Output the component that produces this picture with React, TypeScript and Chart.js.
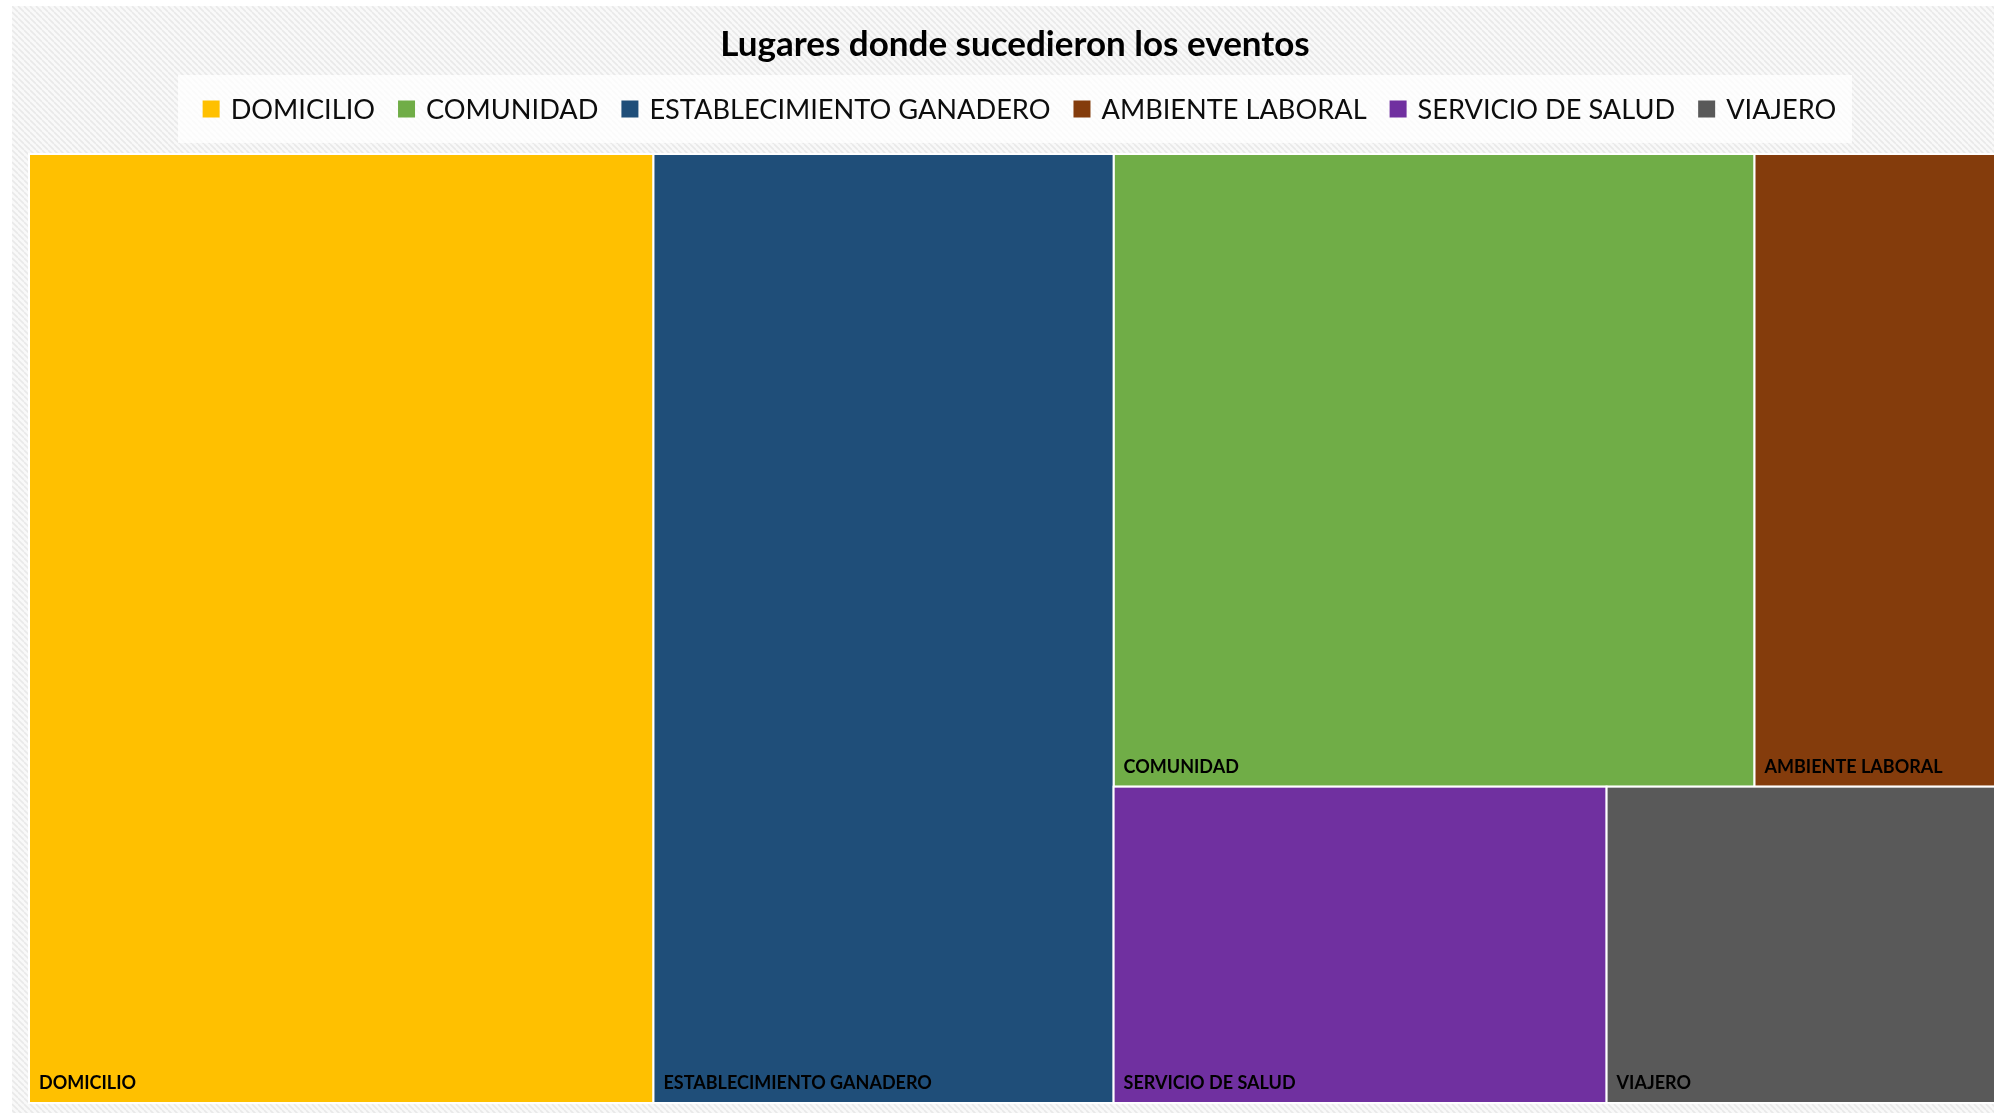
import React, { useEffect, useRef } from 'react';
import { Chart, registerables } from 'chart.js';

Chart.register(...registerables);

const TITLE = 'Lugares donde sucedieron los eventos';
const categories = ['DOMICILIO', 'COMUNIDAD', 'ESTABLECIMIENTO GANADERO', 'AMBIENTE LABORAL', 'SERVICIO DE SALUD', 'VIAJERO'];
const values = [19, 13, 14, 5, 5, 4];
const colors = ['#FFC000', '#70AD47', '#1F4E79', '#843C0C', '#7030A0', '#595959'];
// treemap strips: columns -> rows -> category indexes (as laid out by the original chart)
const layoutColumns: number[][][] = [[[0]], [[2]], [[1, 3], [4, 5]]];

type Rect = { x0: number; x1: number; y0: number; y1: number };

function computeLayout(): Rect[] {
  const rects: Rect[] = new Array(values.length);
  const total = values.reduce((a, b) => a + b, 0);
  let cx = 0;
  layoutColumns.forEach((col) => {
    const colSum = col.flat().reduce((a, i) => a + values[i], 0);
    const w = colSum / total;
    let cy = 0;
    col.forEach((row) => {
      const rowSum = row.reduce((a, i) => a + values[i], 0);
      const h = rowSum / colSum;
      let rx = cx;
      row.forEach((i) => {
        const cw = (values[i] / rowSum) * w;
        rects[i] = { x0: rx, x1: rx + cw, y0: cy, y1: cy + h };
        rx += cw;
      });
      cy += h;
    });
    cx += w;
  });
  return rects;
}

function makePattern(): CanvasPattern | string {
  const s = 6;
  const c = document.createElement('canvas');
  c.width = s;
  c.height = s;
  const g = c.getContext('2d');
  if (!g) return '#f2f2f2';
  g.fillStyle = '#f9f9f9';
  g.fillRect(0, 0, s, s);
  g.strokeStyle = '#e9e9e9';
  g.lineWidth = 1.6;
  g.beginPath();
  for (const k of [-s, 0, s]) {
    g.moveTo(k, 0);
    g.lineTo(k + s, s);
  }
  g.stroke();
  const p = g.createPattern(c, 'repeat');
  return p || '#f2f2f2';
}

const backgroundPlugin = {
  id: 'hatchBackground',
  beforeDraw(chart: any) {
    const { ctx, width, height } = chart;
    ctx.save();
    ctx.fillStyle = makePattern();
    ctx.fillRect(0, 0, width, height);
    ctx.restore();
  },
};

const cellsPlugin = {
  id: 'treemapCells',
  afterDatasetsDraw(chart: any) {
    const { ctx } = chart;
    const xs = chart.scales.x;
    const ys = chart.scales.y;
    ctx.save();
    chart.data.datasets.forEach((ds: any) => {
      const [p0, p1] = ds.data;
      const left = xs.getPixelForValue(p0.x);
      const right = xs.getPixelForValue(p1.x);
      const top = ys.getPixelForValue(p0.y);
      const bottom = ys.getPixelForValue(p1.y);
      ctx.fillStyle = ds.backgroundColor;
      ctx.fillRect(left, top, right - left, bottom - top);
      ctx.strokeStyle = '#ffffff';
      ctx.lineWidth = 2;
      ctx.strokeRect(left, top, right - left, bottom - top);
      ctx.fillStyle = '#000000';
      ctx.font = 'bold 18px Lato';
      ctx.textBaseline = 'alphabetic';
      ctx.textAlign = 'left';
      ctx.fillText(ds.label, left + 10, bottom - 14);
    });
    ctx.restore();
  },
};

const legendPlugin = {
  id: 'customLegend',
  afterDraw(chart: any) {
    const { ctx, chartArea } = chart;
    const cx = chart.width / 2;
    const boxTop = chartArea.top - 79;
    ctx.save();
    ctx.fillStyle = 'rgba(255,255,255,0.78)';
    ctx.fillRect(cx - 837, boxTop, 1674, 68);
    ctx.font = '27.2px Lato';
    ctx.textBaseline = 'middle';
    ctx.textAlign = 'left';
    const box = 17;
    const gap = 11;
    const spacing = 23;
    const widths = chart.data.datasets.map((ds: any) => box + gap + ctx.measureText(ds.label).width);
    const total = widths.reduce((a: number, b: number) => a + b, 0) + spacing * (widths.length - 1);
    let x = cx + 4.5 - total / 2;
    const yc = chartArea.top - 45;
    chart.data.datasets.forEach((ds: any, i: number) => {
      ctx.fillStyle = ds.backgroundColor;
      ctx.fillRect(x, yc - box / 2, box, box);
      ctx.fillStyle = '#0d0d0d';
      ctx.fillText(ds.label, x + box + gap, yc + 1);
      x += widths[i] + spacing;
    });
    ctx.restore();
  },
};

export default function App() {
  const canvasRef = useRef<HTMLCanvasElement | null>(null);

  useEffect(() => {
    document.body.style.overflow = 'hidden';
    let chart: Chart | null = null;
    let cancelled = false;
    const rects = computeLayout();
    const build = () => {
      if (cancelled || !canvasRef.current) return;
      chart = new Chart(canvasRef.current, {
        type: 'scatter',
        data: {
          datasets: categories.map((name, i) => ({
            label: name,
            data: [
              { x: rects[i].x0, y: rects[i].y0 },
              { x: rects[i].x1, y: rects[i].y1 },
            ],
            backgroundColor: colors[i],
            borderColor: colors[i],
            pointRadius: 0,
            pointHoverRadius: 0,
            showLine: false,
          })),
        },
        options: {
          animation: false,
          responsive: true,
          maintainAspectRatio: false,
          events: [],
          layout: { padding: { left: 17, right: 17, top: 0, bottom: 10 } },
          scales: {
            x: { type: 'linear', min: 0, max: 1, display: false },
            y: { type: 'linear', min: 0, max: 1, reverse: true, display: false },
          },
          plugins: {
            legend: { display: false },
            tooltip: { enabled: false },
            title: {
              display: true,
              text: TITLE,
              color: '#000000',
              font: { family: 'Lato', size: 35, weight: 'bold' },
              padding: { top: 18, bottom: 88 },
            },
          },
        },
        plugins: [backgroundPlugin, cellsPlugin, legendPlugin],
      });
    };
    const fontsAny: any = (document as any).fonts;
    if (fontsAny && fontsAny.load) {
      Promise.all([
        fontsAny.load('bold 35px Lato'),
        fontsAny.load('27px Lato'),
        fontsAny.load('bold 18px Lato'),
      ]).then(build, build);
    } else {
      build();
    }
    return () => {
      cancelled = true;
      if (chart) chart.destroy();
    };
  }, []);

  return (
    <div style={{ position: 'fixed', left: 12, top: 6, width: 2006, height: 1107 }}>
      <canvas ref={canvasRef} />
    </div>
  );
}
